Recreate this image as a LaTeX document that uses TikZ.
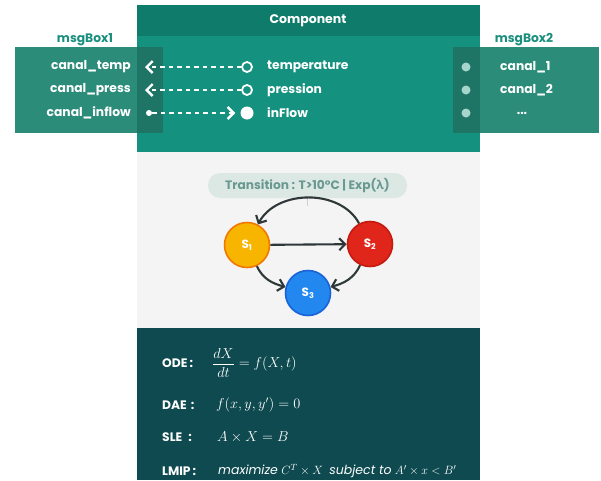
\documentclass[tikz,border=0pt]{standalone}
\usepackage{fontspec}
\setmainfont{Poppins}
\newfontfamily\grk{Open Sans}
\usetikzlibrary{arrows.meta}
\definecolor{hdr}{HTML}{0F7B6A}
\definecolor{body}{HTML}{14917F}
\definecolor{msg}{HTML}{2C8C7A}
\definecolor{ovl}{HTML}{1F7565}
\definecolor{greybg}{HTML}{F4F4F4}
\definecolor{darkbg}{HTML}{0E4A4F}
\definecolor{ttl}{HTML}{1A8F7E}
\definecolor{rdotc}{HTML}{A6D6CB}
\definecolor{pillf}{HTML}{DCE8E4}
\definecolor{pillt}{HTML}{6A9990}
\definecolor{arrc}{HTML}{2F3838}
\definecolor{s1f}{HTML}{F7B500}
\definecolor{s1d}{HTML}{F07800}
\definecolor{s2f}{HTML}{E0261B}
\definecolor{s2d}{HTML}{C41A10}
\definecolor{s3f}{HTML}{2288F0}
\definecolor{s3d}{HTML}{1A62D8}
\begin{document}
\begin{tikzpicture}[x=1pt,y=-1pt,
  lbl/.style={text=white,font=\fontsize{12.3}{14}\selectfont\bfseries,inner sep=0pt},
  hdrtxt/.style={text=white,font=\fontsize{12.5}{14}\selectfont\bfseries,inner sep=0pt},
  boxttl/.style={text=ttl,font=\fontsize{12.3}{14}\selectfont\bfseries,inner sep=0pt},
  opencirc/.style={circle,draw=white,line width=1.8pt,minimum size=10pt,inner sep=0pt},
  bigdot/.style={circle,fill=white,minimum size=13pt,inner sep=0pt},
  smalldot/.style={circle,fill=white,minimum size=6pt,inner sep=0pt},
  rdot/.style={circle,fill=rdotc,minimum size=9pt,inner sep=0pt},
  dashline/.style={draw=white,line width=1.9pt,dash pattern=on 4.5pt off 4pt},
  chev/.tip={Straight Barb[length=6pt,width=12pt,line width=2.4pt]},
  state/.style={circle,minimum size=45pt,inner sep=0pt,line width=1.6pt,text=white,font=\fontsize{12}{14}\selectfont\bfseries},
  sarr/.style={draw=arrc,line width=2.1pt,-{Straight Barb[length=6pt,width=12pt,line width=2.1pt]}},
  eqlbl/.style={text=white,font=\fontsize{12.3}{14}\selectfont\bfseries,inner sep=0pt,anchor=west},
  eqm/.style={text=white,font=\fontsize{14}{16}\selectfont,inner sep=0pt,anchor=west}]
\useasboundingbox (0,0) rectangle (601,480);
\fill[white] (0,0) rectangle (601,480);
% component background
\fill[body] (137,5) rectangle (480,152);
\fill[hdr] (137,5) rectangle (480,36);
\fill[greybg] (137,152) rectangle (480,328);
\fill[darkbg] (137,328) rectangle (480,480);
% message boxes
\fill[msg] (15,47) rectangle (163,133);
\fill[msg] (453,47) rectangle (599,133);
\fill[ovl] (137,47) rectangle (163,133);
\fill[ovl] (453,47) rectangle (480,133);
% titles
\node[hdrtxt] (comp) at (308,21) {Component};
\node[boxttl] (mb1) at (85,40) {msgBox1};
\node[boxttl] (mb2) at (524,40) {msgBox2};
% left channel labels
\node[lbl,anchor=east] (ct) at (131,67) {canal\_temp};
\node[lbl,anchor=east] (cp) at (131,90) {canal\_press};
\node[lbl,anchor=east] (ci) at (131,113) {canal\_inflow};
% ports
\node[opencirc] (pt) at (247,67) {};
\node[opencirc] (pp) at (247,90) {};
\node[bigdot] (pi) at (247,113) {};
\coordinate (lt) at (145,67);
\coordinate (lp) at (145,90);
\node[smalldot] (li) at (149,113) {};
\draw[dashline,-{chev}] (pt) -- (lt);
\draw[dashline,-{chev}] (pp) -- (lp);
\draw[dashline,-{chev},shorten >=5pt] (li) -- (pi);
\node[lbl,anchor=west] (tt) at (267,67) {temperature};
\node[lbl,anchor=west] (tp) at (267,90) {pression};
\node[lbl,anchor=west] (tf) at (267,113) {inFlow};
% right ports
\node[rdot] (r1) at (466,67) {};
\node[rdot] (r2) at (466,90) {};
\node[rdot] (r3) at (466,113) {};
\node[lbl,anchor=west] (c1) at (500,67) {canal\_1};
\node[lbl,anchor=west] (c2) at (500,90) {canal\_2};
\node[lbl] (c3) at (522,113) {...};
% transition pill
\node[fill=pillf,rounded corners=12pt,minimum width=199pt,minimum height=25pt,inner sep=0pt,
  text=pillt,font=\fontsize{12.2}{14}\selectfont\bfseries] (pill) at (307.5,185.5) {Transition : T>10°C | Exp({\grk λ})};
\coordinate (pk) at (307.5,206);
\draw[draw=pillf!80!gray,line width=0.8pt] (pill.south) -- (pk);
% states
\node[state,fill=s1f,draw=s1d] (s1) at (247,245) {S\textsubscript{1}};
\node[state,fill=s2f,draw=s2d] (s2) at (370,244) {S\textsubscript{2}};
\node[state,fill=s3f,draw=s3d] (s3) at (308,293) {S\textsubscript{3}};
\draw[sarr] (s1) -- (s2);
\draw[sarr] (s2) to[out=118,in=62] (s1);
\draw[sarr] (s1) to[out=-65,in=165] (s3);
\draw[sarr] (s2) to[out=-115,in=15] (s3);
% equations
\node[eqlbl] (ode) at (162,363) {ODE\,:};
\node[eqm] (odee) at (212,363) {$\displaystyle\frac{dX}{dt}=f(X,t)$};
\node[eqlbl] (dae) at (162,405) {DAE\,\,:};
\node[eqm] (daee) at (216,405) {$f(x,y,y')=0$};
\node[eqlbl] (sle) at (162,437) {SLE\,\,\,:};
\node[eqm] (slee) at (217,437) {$A\times X=B$};
\node[eqlbl] (lmip) at (162,471) {LMIP\,:};
\node[eqm] (lmipe) at (218,471) {\fontsize{12.5}{14}\selectfont{\itshape maximize} $C^T\times X$\enspace{\itshape subject to} $A'\times x<B'$};
\end{tikzpicture}
\end{document}
